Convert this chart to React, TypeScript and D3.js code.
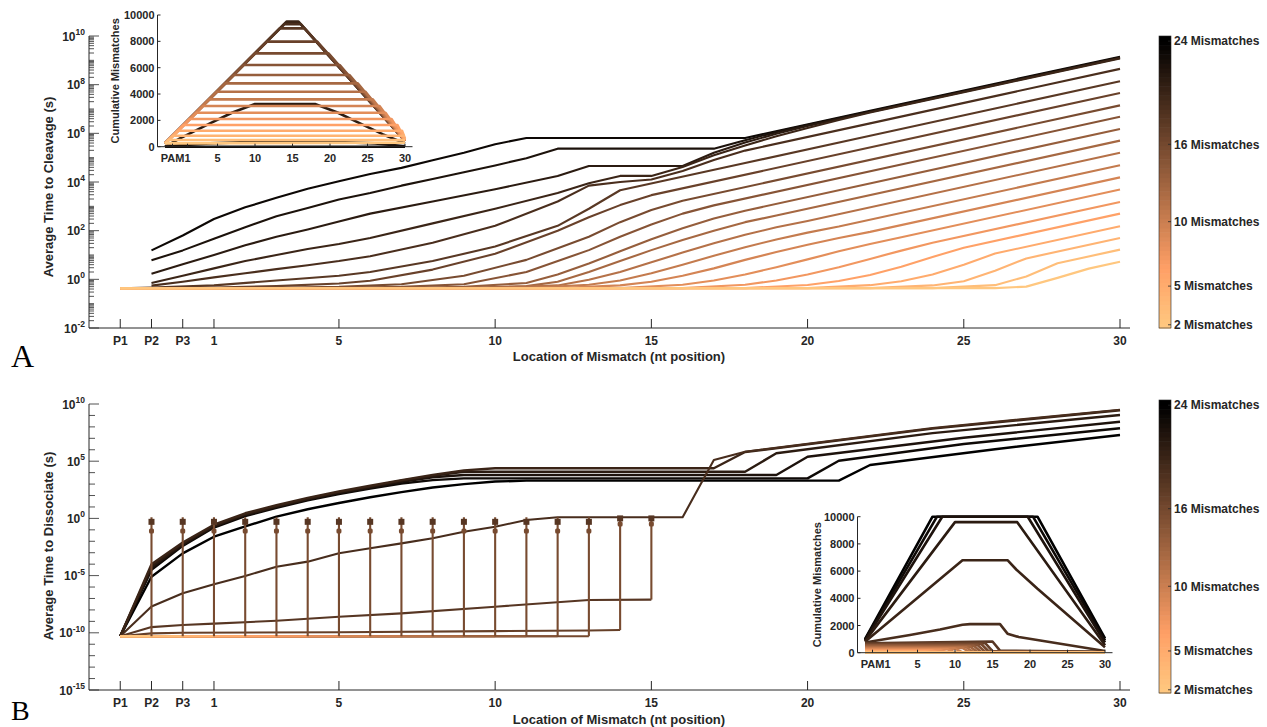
import React from 'react';
import * as d3 from 'd3';

type Pt = [number, number];

const FONT = '"Liberation Sans", Arial, Helvetica, sans-serif';
const INK = '#262626';

// ---------- shared tick data ----------
const positionTicks = [-2, -1, 0, 1, 5, 10, 15, 20, 25, 30];
const positionLabels = ['P1', 'P2', 'P3', '1', '5', '10', '15', '20', '25', '30'];
const insetPosTicks = [-1, 1, 5, 10, 15, 20, 25, 30];
const insetPosLabels = ['PAM', '1', '5', '10', '15', '20', '25', '30'];
const insetCountTicks = [0, 2000, 4000, 6000, 8000, 10000];
const colorbarTicks = [2, 5, 10, 16, 24];
const colorbarLabels = ['2 Mismatches', '5 Mismatches', '10 Mismatches', '16 Mismatches', '24 Mismatches'];
const cleavageLabelExps = [-2, 0, 2, 4, 6, 8, 10];
const dissociateLabelExps = [-15, -10, -5, 0, 5, 10];

// ---------- Panel A: average time to cleavage (log10 seconds) ----------
const cleavageMismatches = [24, 23, 22, 21, 20, 19, 18, 17, 16, 15, 14, 13, 12, 11, 10, 9, 8, 7, 6, 5, 4];
const cleavageLog10: Pt[][] = [
  [[-1,1.19],[0,1.8],[1,2.48],[2,2.96],[3,3.35],[4,3.72],[5,4.03],[6,4.33],[7,4.58],[8,4.89],[9,5.2],[10,5.55],[11,5.81],[18,5.81],[22,6.93],[26,8.04],[30,9.15]],
  [[-1,0.78],[0,1.19],[1,1.67],[2,2.14],[3,2.59],[4,2.93],[5,3.28],[6,3.55],[7,3.85],[8,4.12],[9,4.4],[10,4.68],[11,4.98],[12,5.37],[17,5.37],[18,5.72],[19,6.05],[20,6.34],[22,6.9],[26,8.01],[30,9.12]],
  [[-1,0.23],[0,0.62],[1,1.0],[2,1.4],[3,1.75],[4,2.05],[5,2.38],[6,2.7],[8,3.2],[10,3.7],[12,4.25],[13,4.66],[16,4.66],[17,5.2],[18,5.62],[19,5.98],[20,6.3],[22,6.88],[26,7.99],[30,9.1]],
  [[-1,-0.15],[0,0.15],[1,0.45],[2,0.75],[3,1.0],[4,1.25],[5,1.45],[6,1.7],[8,2.3],[10,2.9],[12,3.55],[13,3.95],[14,4.25],[15,4.25],[16,4.62],[17,5.1],[18,5.5],[19,5.88],[20,6.22],[21,6.55],[22,6.86],[26,7.97],[30,9.08]],
  [[-1,-0.26],[0,-0.1],[1,0.08],[2,0.25],[3,0.42],[4,0.58],[5,0.75],[6,0.95],[8,1.5],[10,2.2],[12,3.2],[13,3.85],[14,4.0],[15,4.1],[16,4.45],[17,4.9],[18,5.29],[22,6.41],[26,7.53],[30,8.65]],
  [[-2,-0.37],[-1,-0.34],[1,-0.25],[3,-0.05],[5,0.15],[6,0.3],[8,0.75],[10,1.35],[12,2.2],[13,2.9],[14,3.66],[18,4.78],[22,5.9],[26,7.02],[30,8.14]],
  [[-2,-0.37],[1,-0.34],[3,-0.28],[5,-0.17],[6,-0.06],[8,0.4],[10,1.05],[12,2.0],[13,2.55],[14,3.05],[15,3.46],[30,7.66]],
  [[-2,-0.37],[3,-0.35],[5,-0.31],[7,-0.2],[9,0.15],[11,0.8],[13,1.75],[14,2.35],[15,2.85],[16,3.23],[30,7.15]],
  [[-2,-0.37],[5,-0.35],[7,-0.31],[9,-0.2],[11,0.3],[13,1.2],[14,1.75],[15,2.25],[16,2.7],[17,3.04],[30,6.68]],
  [[-2,-0.37],[7,-0.35],[9,-0.31],[11,-0.15],[12,0.2],[13,0.65],[14,1.15],[15,1.65],[16,2.1],[17,2.5],[18,2.82],[30,6.18]],
  [[-2,-0.37],[9,-0.35],[11,-0.28],[12,-0.1],[13,0.3],[14,0.75],[15,1.2],[16,1.62],[17,2.0],[18,2.35],[19,2.62],[30,5.7]],
  [[-2,-0.37],[10,-0.35],[12,-0.25],[13,-0.02],[14,0.3],[15,0.7],[16,1.1],[17,1.48],[18,1.83],[19,2.14],[20,2.4],[30,5.2]],
  [[-2,-0.37],[11,-0.36],[13,-0.22],[14,-0.05],[15,0.25],[16,0.6],[17,0.97],[18,1.32],[19,1.64],[20,1.92],[21,2.17],[30,4.69]],
  [[-2,-0.37],[12,-0.36],[14,-0.25],[15,-0.1],[16,0.15],[17,0.45],[18,0.8],[19,1.12],[20,1.42],[21,1.7],[22,1.95],[30,4.19]],
  [[-2,-0.37],[14,-0.36],[16,-0.22],[17,-0.05],[18,0.2],[19,0.5],[20,0.82],[21,1.15],[22,1.45],[23,1.73],[30,3.69]],
  [[-2,-0.37],[16,-0.36],[18,-0.22],[19,-0.05],[20,0.2],[21,0.5],[22,0.84],[23,1.18],[24,1.5],[30,3.18]],
  [[-2,-0.37],[18,-0.36],[20,-0.23],[21,-0.07],[22,0.18],[23,0.52],[24,0.92],[25,1.3],[30,2.7]],
  [[-2,-0.37],[20,-0.36],[22,-0.24],[23,-0.08],[24,0.2],[25,0.6],[26,1.06],[30,2.18]],
  [[-2,-0.37],[22,-0.36],[24,-0.25],[25,-0.08],[26,0.35],[27,0.86],[30,1.7]],
  [[-2,-0.37],[24,-0.36],[26,-0.24],[27,0.12],[28,0.66],[30,1.22]],
  [[-2,-0.37],[26,-0.36],[27,-0.3],[28,0.06],[29,0.44],[30,0.72]],
];

// Panel A inset: cumulative mismatches
const cumulativeAMismatches = [24, 23, 22, 21, 20, 19, 18, 17, 16, 15, 14, 13, 12, 11, 10, 9, 8, 7, 6, 5, 4];
const cumulativeA: Pt[][] = [
  [[-2,0],[30,0]],
  [[-2,30],[4,250],[10,380],[20,380],[26,250],[30,30]],
  [[-2,0],[0,630],[4,1770],[7,2600],[10,3240],[18,3240],[21,2600],[24,1770],[27,950],[30,250]],
  [[-2,250],[14.2,9494],[15.8,9494],[30,450]],
  [[-2,250],[13.9,9300],[16.1,9300],[30,450]],
  [[-2,250],[13.3,8987],[16.6,8987],[30,450]],
  [[-2,250],[11.6,7975],[18.3,7975],[30,450]],
  [[-2,250],[10,7089],[19.8,7089],[30,450]],
  [[-2,250],[8.5,6203],[21.3,6203],[30,450]],
  [[-2,250],[7.2,5443],[22.6,5443],[30,450]],
  [[-2,250],[6,4810],[23.7,4810],[30,450]],
  [[-2,250],[4.9,4177],[24.7,4177],[30,450]],
  [[-2,250],[3.9,3595],[25.7,3595],[30,450]],
  [[-2,250],[3.1,3089],[26.6,3089],[30,450]],
  [[-2,250],[2.2,2582],[27.4,2582],[30,450]],
  [[-2,250],[1.3,2101],[28.2,2101],[30,450]],
  [[-2,250],[0.5,1646],[29,1646],[30,500]],
  [[-2,250],[-0.2,1215],[29.6,1215],[30,600]],
  [[-2,250],[-0.9,835],[30,835]],
  [[-2,250],[-1.5,506],[30,506]],
  [[-2,250],[30,300]],
];

// ---------- Panel B: average time to dissociate (log10 seconds) ----------
const dissociateMismatches = [24, 23, 22, 21, 20, 19, 18, 17, 16, 15, 14, 13, 12, 11, 10, 9, 8, 7, 6, 5, 4, 3, 2];
const dissociateLog10: Pt[][] = [
  [[-2,-10.3],[-1,-5.1],[0,-3.06],[1,-1.6],[2,-0.7],[3,0.16],[4,0.8],[5,1.35],[6,1.85],[7,2.3],[8,2.7],[9,3.0],[10,3.22],[11,3.3],[21,3.3],[22,4.67],[26,6.05],[30,7.29]],
  [[-2,-10.3],[-1,-4.5],[0,-2.4],[1,-0.8],[2,0.2],[3,0.92],[4,1.58],[5,2.12],[6,2.6],[7,3.05],[8,3.35],[9,3.5],[20,3.5],[21,5.04],[25,6.5],[30,7.88]],
  [[-2,-10.3],[-1,-4.35],[0,-2.3],[1,-0.7],[2,0.3],[3,1.0],[4,1.66],[5,2.22],[6,2.7],[7,3.2],[8,3.6],[9,3.79],[19,3.79],[20,5.39],[25,7.05],[30,8.45]],
  [[-2,-10.3],[-1,-4.2],[0,-2.2],[1,-0.65],[2,0.35],[3,1.05],[4,1.72],[5,2.3],[6,2.78],[7,3.3],[8,3.72],[9,4.08],[18,4.08],[19,5.69],[24,7.45],[30,9.04]],
  [[-2,-10.3],[-1,-4.0],[0,-2.1],[1,-0.55],[2,0.45],[3,1.15],[4,1.8],[5,2.35],[6,2.85],[7,3.35],[8,3.8],[9,4.2],[10,4.38],[17,4.38],[18,5.8],[24,7.85],[30,9.45]],
  [[-2,-10.3],[-1,-7.7],[0,-6.55],[1,-5.76],[2,-5.03],[3,-4.22],[4,-3.78],[5,-3.05],[6,-2.61],[7,-2.18],[8,-1.74],[9,-1.16],[10,-0.73],[11,-0.14],[12,0.1],[16,0.1],[17,5.1],[18,5.83],[24,7.9],[30,9.5]],
  [[-2,-10.3],[-1,-9.5],[0,-9.32],[1,-9.2],[3,-8.95],[5,-8.6],[7,-8.3],[10,-7.72],[13,-7.13],[15,-7.1]],
  [[-2,-10.3],[-1,-10.05],[0,-10.0],[5,-9.95],[10,-9.85],[13,-9.8],[14,-9.76]],
  [[-2,-10.3],[13,-10.3]],
  [[-2,-10.3],[12,-10.3]],
  [[-2,-10.3],[11,-10.3]],
  [[-2,-10.3],[10,-10.3]],
  [[-2,-10.3],[9,-10.3]],
  [[-2,-10.3],[8,-10.3]],
  [[-2,-10.3],[7,-10.3]],
  [[-2,-10.3],[6,-10.3]],
  [[-2,-10.3],[5,-10.3]],
  [[-2,-10.3],[4,-10.3]],
  [[-2,-10.3],[3,-10.3]],
  [[-2,-10.3],[2,-10.3]],
  [[-2,-10.3],[1,-10.3]],
  [[-2,-10.3],[0,-10.3]],
  [[-2,-10.3],[-1,-10.3]],
];

// vertical spread bars (log10 seconds)
const spreadPositions = [-1, 0, 1, 2, 3, 4, 5, 6, 7, 8, 9, 10, 11, 12, 13, 14, 15];
const spreadLowLog10 = [-10.3, -10.3, -10.3, -10.3, -10.3, -10.3, -10.3, -10.3, -10.3, -10.3, -10.3, -10.3, -10.3, -10.3, -10.3, -9.76, -7.1];
const spreadHighLog10 = [0.1, 0.1, 0.1, 0.1, 0.1, 0.1, 0.1, 0.1, 0.1, 0.1, 0.1, 0.1, 0.1, 0.1, 0.1, 0.1, 0.1];
const spreadCapLog10 = [-0.3, -0.3, -0.3, -0.3, -0.3, -0.3, -0.3, -0.3, -0.3, -0.3, -0.3, -0.3, -0.3, -0.3, -0.3, 0.0, 0.0];
const spreadMarkLog10 = [-1.1, -1.1, -1.1, -1.1, -1.1, -1.1, -1.1, -1.1, -1.1, -1.1, -1.1, -1.1, -1.1, -1.1, -1.1, -0.5, -0.5];

// Panel B inset: cumulative mismatches
const cumulativeBMismatches = [24, 23, 22, 21, 20, 19, 18, 17, 16, 15, 14, 13, 12, 11, 10, 9, 8, 7, 6, 5, 4, 3, 2];
const cumulativeB: Pt[][] = [
  [[-2,1000],[7,10000],[21,10000],[30,1050]],
  [[-2,950],[7.6,10000],[20.4,10000],[30,900]],
  [[-2,900],[8.3,10000],[19.7,10000],[30,750]],
  [[-2,850],[10,9600],[18.3,9600],[30,550]],
  [[-2,800],[11,6800],[17,6800],[18.2,6100],[21,4700],[30,400]],
  [[-2,750],[4,1300],[8,1700],[11,2050],[12,2100],[16,2100],[17,1400],[18.5,1150],[30,120]],
  [[-2,700],[15,820],[16,150],[30,60]],
  [[-2,650],[14,720],[15,110],[30,45]],
  [[-2,600],[13.5,640],[14.5,90],[30,35]],
  [[-2,550],[13,570],[14,70],[30,25]],
  [[-2,500],[12.5,510],[13.5,55],[30,20]],
  [[-2,450],[12,455],[13,45],[30,15]],
  [[-2,400],[11.5,400],[12.5,35],[30,10]],
  [[-2,350],[11,350],[12,25],[30,8]],
  [[-2,300],[10,300],[11,20],[30,5]],
  [[-2,250],[9,250],[10,15],[30,5]],
  [[-2,200],[8,200],[9,10],[30,0]],
  [[-2,150],[7,150],[8,5],[30,0]],
  [[-2,110],[6,110],[7,5],[30,0]],
  [[-2,70],[5,70],[6,0],[30,0]],
  [[-2,40],[30,0]],
  [[-2,20],[30,0]],
  [[-2,0],[30,0]],
];

// ---------- colour map (copper, reversed: light = few mismatches, black = 24) ----------
const copper = (t: number) => {
  const c = Math.max(0, Math.min(1, t));
  return d3.rgb(Math.min(1, 1.25 * c) * 255, 0.7812 * c * 255, 0.4975 * c * 255).formatHex();
};
const mismatchColor = (k: number) => copper(1 - (k - 2) / 22);
const colorA = d3.scaleLinear().domain([4, 24]).range([1, 0.04]);
const mismatchColorA = (k: number) => copper(colorA(k));

const txt = { fontFamily: FONT, fontWeight: 700, fill: INK } as const;

function PowerLabel({ x, y, e }: { x: number; y: number; e: number }) {
  return (
    <text x={x} y={y} textAnchor="end" fontSize={12} style={txt}>
      10<tspan dy={-5.5} fontSize={8.5}>{String(e)}</tspan>
    </text>
  );
}

function Colorbar({ top, bottom }: { top: number; bottom: number }) {
  const x0 = 1159;
  const w = 12;
  const cb = d3.scaleLinear().domain([1.75, 24.4]).range([bottom, top]);
  const n = 64;
  const steps = d3.range(n).map((i) => 1.75 + ((24.4 - 1.75) * i) / n);
  const dv = (24.4 - 1.75) / n;
  return (
    <g>
      {steps.map((v, i) => (
        <rect key={i} x={x0} y={cb(v + dv)} width={w} height={cb(v) - cb(v + dv) + 0.6} fill={mismatchColor(v + dv / 2)} />
      ))}
      <rect x={x0} y={top} width={w} height={bottom - top} fill="none" stroke={INK} strokeWidth={0.6} />
      {colorbarTicks.map((t, i) => (
        <g key={t}>
          <line x1={x0 + w - 3} x2={x0 + w} y1={cb(t)} y2={cb(t)} stroke={INK} strokeWidth={0.8} />
          <text x={x0 + w + 3} y={cb(t) + 4.3} fontSize={12} style={txt}>{colorbarLabels[i]}</text>
        </g>
      ))}
    </g>
  );
}

function Inset({ x0, x1, yTop, yBot, curves, ks, labelX, colorFn }: {
  x0: number; x1: number; yTop: number; yBot: number; curves: Pt[][]; ks: number[]; labelX: number; colorFn: (k: number) => string;
}) {
  const xs = d3.scaleLinear().domain([-3, 31]).range([x0, x1]);
  const ys = d3.scaleLinear().domain([0, 10000]).range([yBot, yTop]);
  const line = d3.line<Pt>().x((d) => xs(d[0])).y((d) => ys(d[1]));
  return (
    <g>
      {curves.map((c, i) => (
        <path key={i} d={line(c) || ''} fill="none" stroke={colorFn(ks[i])} strokeWidth={2.6} strokeLinejoin="round" />
      ))}
      <line x1={x0} x2={x0} y1={yTop} y2={yBot} stroke={INK} strokeWidth={1} />
      <line x1={x0} x2={x1} y1={yBot} y2={yBot} stroke={INK} strokeWidth={1} />
      {insetCountTicks.map((t) => (
        <g key={t}>
          <line x1={x0} x2={x0 + 3} y1={ys(t)} y2={ys(t)} stroke={INK} />
          <text x={x0 - 3} y={ys(t) + 4} textAnchor="end" fontSize={11} style={txt}>{t}</text>
        </g>
      ))}
      {insetPosTicks.map((p, i) => (
        <g key={p}>
          <line x1={xs(p)} x2={xs(p)} y1={yBot} y2={yBot - 3} stroke={INK} />
          <text x={xs(p)} y={yBot + 15} textAnchor="middle" fontSize={11} style={txt}>{insetPosLabels[i]}</text>
        </g>
      ))}
      <text transform={`translate(${labelX},${(yTop + yBot) / 2}) rotate(-90)`} textAnchor="middle" fontSize={11} style={txt}>
        Cumulative Mismatches
      </text>
    </g>
  );
}

export default function App() {
  const x = d3.scaleLinear().domain([-3, 30.32]).range([89, 1130]);
  const yA = d3.scaleLog().domain([1e-2, 1e10]).range([328, 36]);
  const yB = d3.scaleLog().domain([1e-15, 1e10]).range([690, 404]);
  const lineA = d3.line<Pt>().x((d) => x(d[0])).y((d) => yA(Math.pow(10, d[1])));
  const lineB = d3.line<Pt>().x((d) => x(d[0])).y((d) => yB(Math.pow(10, d[1])));

  const ticksA: { v: number; major: boolean }[] = [];
  for (let n = -2; n < 10; n++) {
    for (let m = 1; m <= 9; m++) ticksA.push({ v: m * Math.pow(10, n), major: m === 1 && n % 2 === 0 });
  }
  ticksA.push({ v: 1e10, major: true });
  const ticksB: { v: number; major: boolean }[] = [];
  for (let n = -15; n <= 10; n++) ticksB.push({ v: Math.pow(10, n), major: n % 5 === 0 });

  const xAxis = (axisY: number) => (
    <g>
      <line x1={89} x2={1130} y1={axisY} y2={axisY} stroke={INK} strokeWidth={1} />
      {positionTicks.map((p, i) => (
        <g key={p}>
          <line x1={x(p)} x2={x(p)} y1={axisY} y2={axisY - 9} stroke={INK} strokeWidth={1} />
          <text x={x(p)} y={axisY + 17} textAnchor="middle" fontSize={12} style={txt}>{positionLabels[i]}</text>
        </g>
      ))}
    </g>
  );

  return (
    <svg width={1267} height={727} style={{ position: 'absolute', left: 0, top: 0, background: '#fff' }}>
      <rect x={0} y={0} width={1267} height={727} fill="#fff" />

      {/* ================= Panel A ================= */}
      <g>
        {cleavageLog10.map((c, i) => (
          <path key={i} d={lineA(c) || ''} fill="none" stroke={mismatchColorA(cleavageMismatches[i])} strokeWidth={2.1} strokeLinejoin="round" />
        ))}
        <line x1={89} x2={89} y1={36} y2={328} stroke={INK} strokeWidth={1} />
        {ticksA.map((t, i) => (
          <line key={i} x1={89} x2={89 + (t.major ? 10 : 5)} y1={yA(t.v)} y2={yA(t.v)} stroke={INK} strokeWidth={0.8} />
        ))}
        {cleavageLabelExps.map((e) => (
          <PowerLabel key={e} x={85} y={yA(Math.pow(10, e)) + 4.5} e={e} />
        ))}
        {xAxis(328)}
        <text transform="translate(53,187) rotate(-90)" textAnchor="middle" fontSize={13} style={txt}>Average Time to Cleavage (s)</text>
        <text x={619} y={361} textAnchor="middle" fontSize={13} style={txt}>Location of Mismatch (nt position)</text>
        <Inset x0={157.5} x1={412.5} yTop={15} yBot={146.7} curves={cumulativeA} ks={cumulativeAMismatches} labelX={119} colorFn={mismatchColorA} />
        <Colorbar top={36} bottom={328} />
        <text x={11} y={367} fontSize={32} fontFamily='"Liberation Serif", "DejaVu Serif", serif' fill="#000">A</text>
      </g>

      {/* ================= Panel B ================= */}
      <g>
        {dissociateLog10.map((c, i) => (
          <path key={i} d={lineB(c) || ''} fill="none" stroke={mismatchColor(dissociateMismatches[i])} strokeWidth={dissociateMismatches[i] >= 20 ? 2.4 : 2.1} strokeLinejoin="round" />
        ))}
        {spreadPositions.map((p, i) => {
          const col = copper(0.376);
          const yc = yB(Math.pow(10, spreadCapLog10[i]));
          const ym = yB(Math.pow(10, spreadMarkLog10[i]));
          return (
            <g key={p}>
              <line x1={x(p)} x2={x(p)} y1={yB(Math.pow(10, spreadLowLog10[i]))} y2={yB(Math.pow(10, spreadHighLog10[i]))} stroke={col} strokeWidth={2.1} />
              <rect x={x(p) - 3} y={yc - 3} width={6} height={6} fill={mismatchColor(18)} />
              <rect x={x(p) - 2.5} y={ym - 2.5} width={5} height={5} rx={1.5} fill={col} />
            </g>
          );
        })}
        <line x1={89} x2={89} y1={404} y2={690} stroke={INK} strokeWidth={1} />
        {ticksB.map((t, i) => (
          <line key={i} x1={89} x2={89 + (t.major ? 10 : 6)} y1={yB(t.v)} y2={yB(t.v)} stroke={INK} strokeWidth={0.8} />
        ))}
        {dissociateLabelExps.map((e) => (
          <PowerLabel key={e} x={85} y={yB(Math.pow(10, e)) + 4.5} e={e} />
        ))}
        {xAxis(690)}
        <text transform="translate(53,546) rotate(-90)" textAnchor="middle" fontSize={13} style={txt}>Average Time to Dissociate (s)</text>
        <text x={619} y={724} textAnchor="middle" fontSize={13} style={txt}>Location of Mismatch (nt position)</text>
        <Inset x0={857.5} x1={1112.5} yTop={516.7} yBot={652.7} curves={cumulativeB} ks={cumulativeBMismatches} labelX={821} colorFn={mismatchColor} />
        <Colorbar top={400} bottom={693} />
        <text x={11} y={720} fontSize={28} fontFamily='"Liberation Serif", "DejaVu Serif", serif' fill="#000">B</text>
      </g>
    </svg>
  );
}
